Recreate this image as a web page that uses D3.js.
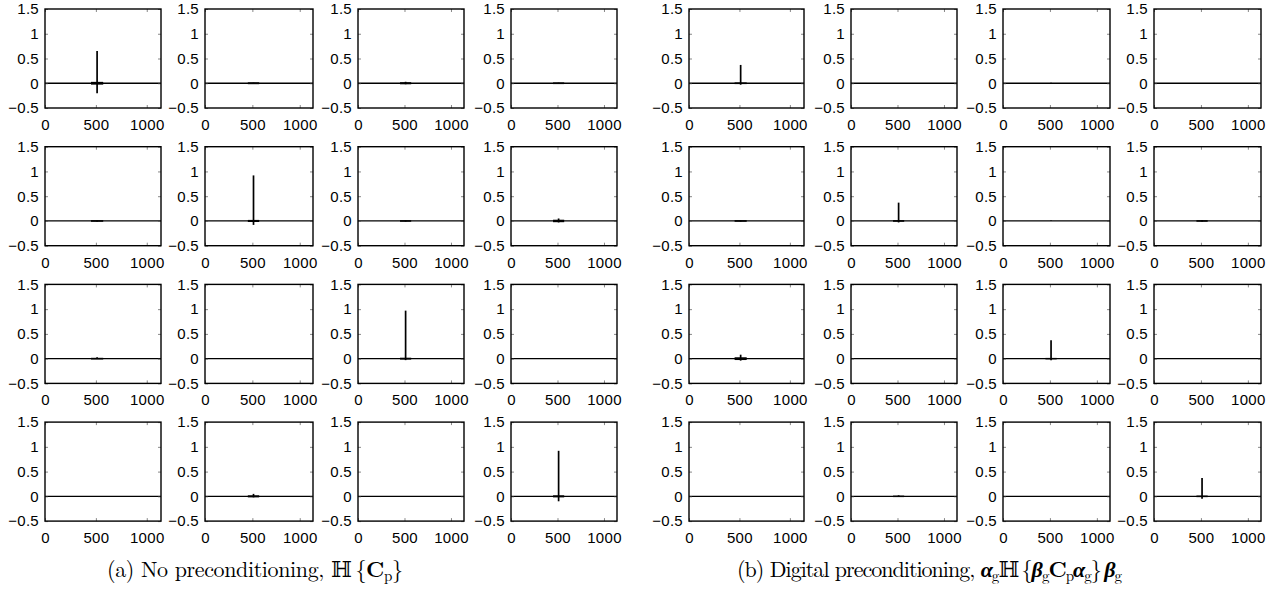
<!DOCTYPE html>
<html>
<head>
<meta charset="utf-8">
<script src="https://cdn.jsdelivr.net/npm/d3@7"></script>
<style>
    body { margin: 0; background: #fff; }
    svg { display: block; }
</style>
</head>
<body>
<svg id="chart" width="1270" height="592"></svg>
<script>
// ---- data ----
const xTicks = [0, 500, 1000];
const yTicks = [-0.5, 0, 0.5, 1, 1.5];
const xDomain = [0, 1140];
const yDomain = [-0.5, 1.5];
const spikeAt = 512;          // sample index of the main peak
const rippleSpan = 60;        // half width (samples) of the wiggle around the peak

// (a) No preconditioning: per panel, row by row
const peakA    = [0.65, 0.01, 0.03, 0.01,  0.01, 0.92, 0.01, 0.05,  0.03, 0.00, 0.97, 0.00,  0.00, 0.05, 0.00, 0.92];
const troughA  = [-0.20, -0.01, -0.02, -0.01,  -0.01, -0.08, -0.01, -0.03,  0.00, 0.00, -0.03, 0.00,  0.00, -0.02, 0.00, -0.10];
const rippleA  = [0.015, 0.006, 0.008, 0.004,  0.004, 0.008, 0.003, 0.012,  0.004, 0, 0.006, 0,  0, 0.008, 0, 0.008];

// (b) Digital preconditioning
const peakB    = [0.37, 0.00, 0.01, 0.00,  0.01, 0.37, 0.01, 0.02,  0.08, 0.00, 0.37, 0.00,  0.00, 0.02, 0.00, 0.37];
const troughB  = [-0.03, 0.00, 0.00, 0.00,  -0.01, -0.03, 0.00, -0.01,  -0.04, 0.00, -0.03, 0.00,  0.00, 0.00, 0.00, -0.05];
const rippleB  = [0.004, 0, 0, 0,  0.004, 0.004, 0, 0.003,  0.015, 0, 0.002, 0,  0, 0.002, 0, 0.003];

const captionA = "(a) No preconditioning, ";
const captionB = "(b) Digital preconditioning, ";

// ---- layout ----
const svg = d3.select('#chart');
const colsA = [[45, 161], [205, 313], [358, 464], [511, 617]];
const colsB = [[689, 804], [851, 957], [1003, 1110], [1154, 1261]];
const rowTop = r => 9 + r * 137.7;
const panelH = 99;
const tickFont = '"Liberation Sans", Arial, Helvetica, sans-serif';
const captionFont = '"Latin Modern Roman", "CMU Serif", "Liberation Serif", "DejaVu Serif", serif';

function fmt(d) {
    return (d < 0 ? '\u2212' : '') + Math.abs(d);
}

function drawPanel(g, w, h, peak, trough, ripple) {
    let x = d3.scaleLinear().domain(xDomain).range([0, w]);
    let y = d3.scaleLinear().domain(yDomain).range([h, 0]);

    // signal baseline
    g.append('line')
        .attr('x1', x(xDomain[0])).attr('x2', x(xDomain[1]))
        .attr('y1', y(0)).attr('y2', y(0))
        .style('stroke', '#000').style('stroke-width', 1.3);

    // small wiggle around the peak
    if (ripple > 0) {
        g.append('line')
            .attr('x1', x(spikeAt - rippleSpan)).attr('x2', x(spikeAt + rippleSpan))
            .attr('y1', y(0)).attr('y2', y(0))
            .style('stroke', '#000')
            .style('stroke-width', 1.3 + (y(-ripple) - y(ripple)));
    }

    // peak
    if (peak !== trough) {
        g.append('line')
            .attr('x1', x(spikeAt)).attr('x2', x(spikeAt))
            .attr('y1', y(trough)).attr('y2', y(peak))
            .style('stroke', '#000').style('stroke-width', 1.7);
    }

    // inward ticks on all sides
    let axes = [
        [d3.axisBottom(x).tickValues(xTicks).tickFormat(fmt), 'translate(0,' + h + ')', 'bottom'],
        [d3.axisTop(x).tickValues(xTicks).tickFormat(''), 'translate(0,0)', ''],
        [d3.axisLeft(y).tickValues(yTicks).tickFormat(fmt), 'translate(0,0)', 'left'],
        [d3.axisRight(y).tickValues(yTicks).tickFormat(''), 'translate(' + w + ',0)', '']
    ];
    for (let [ax, tr, side] of axes) {
        let a = g.append('g')
            .attr('transform', tr)
            .call(ax.tickSizeInner(-3).tickSizeOuter(0).tickPadding(side ? 6 : 0));
        a.select('.domain').remove();
        a.selectAll('line').style('stroke', '#555').style('stroke-width', 0.7);
        a.selectAll('text')
            .style('font-family', tickFont)
            .style('font-size', '15px')
            .style('letter-spacing', '0.3px')
            .style('fill', '#000');
        if (side === 'bottom') {
            a.selectAll('text').attr('dy', null).attr('y', 22);
        }
    }

    // frame
    g.append('rect')
        .attr('x', 0).attr('y', 0)
        .attr('width', w).attr('height', h)
        .style('fill', 'none').style('stroke', '#000').style('stroke-width', 1.4);
}

function drawGroup(cols, peaks, troughs, ripples) {
    for (let i = 0; i < 16; i++) {
        let r = Math.floor(i / 4), c = i % 4;
        let [x0, x1] = cols[c];
        let g = svg.append('g')
            .attr('transform', 'translate(' + x0 + ',' + rowTop(r) + ')');
        drawPanel(g, x1 - x0, panelH, peaks[i], troughs[i], ripples[i]);
    }
}

drawGroup(colsA, peakA, troughA, rippleA);
drawGroup(colsB, peakB, troughB, rippleB);

// captions
function caption(x0, width, parts) {
    let t = svg.append('text')
        .attr('x', x0).attr('y', 577)
        .attr('textLength', width)
        .attr('lengthAdjust', 'spacing')
        .style('font-family', captionFont)
        .style('font-size', '22px')
        .style('fill', '#000');
    for (let p of parts) {
        let s = t.append('tspan').text(p.t);
        if (p.b) s.style('font-weight', 'bold');
        if (p.i) s.style('font-style', 'italic');
        if (p.sub) s.attr('baseline-shift', '-25%').style('font-size', '15px');
        if (p.f) s.style('font-family', p.f);
    }
}

const dj = '"DejaVu Serif", serif';
caption(107, 296, [
    { t: captionA },
    { t: '\u210D', f: dj },
    { t: '\u2009{' },
    { t: 'C', b: true },
    { t: 'p', sub: true },
    { t: '}' }
]);
caption(737, 385, [
    { t: captionB },
    { t: '\u03B1', b: true, i: true },
    { t: 'g', sub: true },
    { t: '\u210D', f: dj },
    { t: '\u2009{' },
    { t: '\u03B2', b: true, i: true },
    { t: 'g', sub: true },
    { t: 'C', b: true },
    { t: 'p', sub: true },
    { t: '\u03B1', b: true, i: true },
    { t: 'g', sub: true },
    { t: '}\u2009' },
    { t: '\u03B2', b: true, i: true },
    { t: 'g', sub: true }
]);
</script>
</body>
</html>
